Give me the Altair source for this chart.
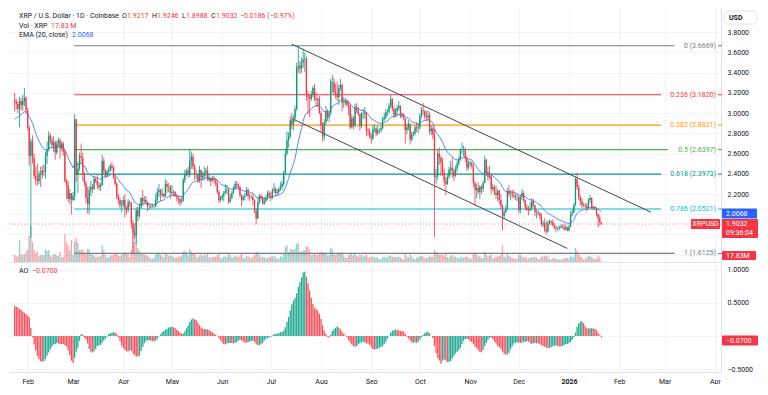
import altair as alt
import pandas as pd
import numpy as np

# ---------------- data ----------------
START_DATE = "2025-01-24"
FIRST_OPEN = 3.13
EMA_SEED = 2.92
EMA_LEN = 20

c_2501 = [3.11, 3.09, 3.04, 3.12, 3.08, 3.12, 3.15, 3.03]
h_2501 = [3.20, 3.14, 3.12, 3.16, 3.15, 3.18, 3.25, 3.17]
l_2501 = [3.02, 3.04, 3.00, 2.86, 3.03, 3.02, 3.07, 2.99]
v_2501 = [180, 130, 150, 550, 200, 180, 190, 260]

c_2502 = [2.85, 2.58, 2.72, 2.56, 2.38, 2.35, 2.33, 2.40, 2.39, 2.43, 2.42, 2.58, 2.64, 2.78, 2.73, 2.68, 2.71, 2.61, 2.70, 2.73, 2.65, 2.70, 2.62, 2.33, 2.29, 2.15, 2.21, 2.14]
h_2502 = [3.05, 2.88, 2.75, 2.78, 2.60, 2.47, 2.50, 2.43, 2.47, 2.48, 2.49, 2.62, 2.72, 2.82, 2.80, 2.77, 2.77, 2.73, 2.73, 2.76, 2.75, 2.72, 2.72, 2.64, 2.35, 2.33, 2.25, 2.20]
l_2502 = [2.83, 2.48, 1.77, 2.50, 2.35, 2.29, 2.28, 2.30, 2.27, 2.35, 2.38, 2.35, 2.50, 2.62, 2.70, 2.65, 2.62, 2.54, 2.59, 2.66, 2.55, 2.62, 2.58, 2.31, 2.15, 2.12, 2.10, 2.00]
v_2502 = [300, 650, 900, 500, 300, 220, 260, 150, 170, 180, 170, 320, 280, 300, 160, 140, 200, 200, 160, 150, 250, 120, 130, 700, 500, 420, 300, 550]

c_2503 = [2.18, 2.94, 2.39, 2.45, 2.58, 2.56, 2.40, 2.31, 2.16, 2.10, 2.24, 2.27, 2.25, 2.35, 2.33, 2.29, 2.27, 2.29, 2.53, 2.43, 2.38, 2.42, 2.44, 2.48, 2.46, 2.36, 2.30, 2.17, 2.14, 2.09, 2.09]
h_2503 = [2.22, 2.99, 2.94, 2.52, 2.61, 2.70, 2.61, 2.42, 2.33, 2.27, 2.28, 2.33, 2.30, 2.38, 2.37, 2.39, 2.32, 2.31, 2.59, 2.56, 2.45, 2.44, 2.47, 2.50, 2.52, 2.48, 2.40, 2.32, 2.20, 2.17, 2.14]
l_2503 = [2.13, 2.14, 2.32, 2.21, 2.43, 2.50, 2.33, 2.28, 2.11, 2.01, 2.00, 2.18, 2.21, 2.24, 2.31, 2.25, 2.24, 2.23, 2.28, 2.39, 2.36, 2.37, 2.39, 2.42, 2.43, 2.35, 2.28, 2.15, 2.10, 2.06, 2.02]
v_2503 = [180, 520, 600, 480, 300, 300, 320, 200, 220, 330, 320, 220, 180, 170, 110, 130, 140, 150, 420, 300, 180, 120, 110, 160, 160, 180, 200, 230, 160, 140, 180]

c_2504 = [2.14, 2.05, 2.04, 2.12, 2.11, 1.91, 1.82, 1.79, 2.04, 1.98, 2.07, 2.16, 2.13, 2.14, 2.12, 2.08, 2.08, 2.07, 2.08, 2.08, 2.14, 2.22, 2.24, 2.19, 2.20, 2.18, 2.30, 2.27, 2.27, 2.21]
h_2504 = [2.18, 2.20, 2.08, 2.15, 2.14, 2.12, 1.94, 1.91, 2.07, 2.08, 2.10, 2.17, 2.24, 2.18, 2.18, 2.13, 2.11, 2.10, 2.10, 2.10, 2.20, 2.26, 2.30, 2.25, 2.26, 2.21, 2.35, 2.33, 2.31, 2.29]
l_2504 = [2.07, 1.97, 2.00, 2.02, 2.07, 1.86, 1.6125, 1.76, 1.71, 1.93, 1.96, 2.05, 2.08, 2.11, 2.09, 2.03, 2.05, 2.06, 2.07, 2.06, 2.07, 2.11, 2.17, 2.13, 2.17, 2.16, 2.17, 2.21, 2.22, 2.15]
v_2504 = [200, 250, 210, 190, 110, 300, 850, 500, 650, 350, 280, 200, 220, 180, 170, 150, 120, 90, 80, 100, 180, 220, 240, 170, 160, 110, 220, 190, 150, 170]

c_2505 = [2.22, 2.22, 2.18, 2.17, 2.15, 2.12, 2.13, 2.34, 2.40, 2.43, 2.39, 2.53, 2.57, 2.47, 2.39, 2.39, 2.33, 2.44, 2.36, 2.38, 2.41, 2.43, 2.34, 2.36, 2.33, 2.35, 2.34, 2.31, 2.22, 2.14, 2.16]
h_2505 = [2.29, 2.24, 2.23, 2.20, 2.18, 2.16, 2.18, 2.36, 2.44, 2.45, 2.47, 2.65, 2.62, 2.60, 2.50, 2.44, 2.40, 2.48, 2.44, 2.42, 2.47, 2.46, 2.48, 2.39, 2.36, 2.38, 2.38, 2.36, 2.34, 2.24, 2.18]
l_2505 = [2.19, 2.18, 2.17, 2.13, 2.10, 2.08, 2.10, 2.13, 2.31, 2.38, 2.36, 2.37, 2.45, 2.44, 2.34, 2.35, 2.31, 2.31, 2.26, 2.33, 2.34, 2.37, 2.33, 2.32, 2.28, 2.32, 2.30, 2.28, 2.20, 2.11, 2.12]
v_2505 = [150, 130, 100, 110, 140, 140, 150, 260, 280, 200, 160, 330, 260, 220, 200, 140, 120, 160, 190, 150, 180, 160, 200, 110, 110, 120, 140, 130, 170, 200, 110]

c_2506 = [2.18, 2.21, 2.23, 2.24, 2.12, 2.16, 2.21, 2.26, 2.30, 2.29, 2.27, 2.19, 2.14, 2.17, 2.18, 2.24, 2.18, 2.17, 2.17, 2.14, 2.03, 1.96, 2.12, 2.18, 2.16, 2.11, 2.13, 2.16, 2.21, 2.18]
h_2506 = [2.20, 2.23, 2.30, 2.29, 2.26, 2.20, 2.23, 2.28, 2.33, 2.33, 2.31, 2.28, 2.20, 2.19, 2.21, 2.27, 2.26, 2.21, 2.19, 2.21, 2.15, 2.06, 2.16, 2.20, 2.20, 2.18, 2.17, 2.19, 2.23, 2.24]
l_2506 = [2.14, 2.13, 2.20, 2.20, 2.10, 2.12, 2.15, 2.20, 2.24, 2.26, 2.24, 2.17, 2.08, 2.13, 2.14, 2.18, 2.15, 2.13, 2.15, 2.09, 2.01, 1.90, 1.95, 2.10, 2.13, 2.09, 2.09, 2.12, 2.14, 2.16]
v_2506 = [90, 130, 140, 130, 200, 170, 110, 110, 150, 140, 120, 170, 210, 110, 90, 150, 140, 120, 90, 140, 170, 250, 260, 170, 130, 130, 120, 90, 110, 120]

c_2507 = [2.17, 2.23, 2.25, 2.21, 2.22, 2.25, 2.27, 2.30, 2.41, 2.60, 2.73, 2.77, 2.93, 2.89, 2.95, 3.04, 3.46, 3.47, 3.44, 3.50, 3.53, 3.54, 3.18, 3.16, 3.14, 3.18, 3.25, 3.14, 3.13, 3.14, 3.00]
h_2507 = [2.22, 2.26, 2.31, 2.27, 2.25, 2.27, 2.32, 2.33, 2.43, 2.65, 2.82, 2.81, 2.97, 3.00, 2.98, 3.07, 3.50, 3.6669, 3.52, 3.55, 3.64, 3.60, 3.56, 3.22, 3.18, 3.22, 3.27, 3.29, 3.21, 3.16, 3.17]
l_2507 = [2.13, 2.15, 2.21, 2.18, 2.19, 2.20, 2.23, 2.24, 2.28, 2.40, 2.58, 2.66, 2.75, 2.84, 2.83, 2.91, 3.02, 3.40, 3.39, 3.40, 3.45, 3.41, 3.12, 2.99, 2.96, 3.12, 3.16, 3.12, 3.06, 3.06, 2.99]
v_2507 = [130, 140, 150, 130, 80, 90, 140, 130, 220, 380, 420, 250, 320, 330, 300, 340, 450, 480, 260, 250, 300, 300, 400, 380, 300, 170, 180, 200, 190, 170, 240]

c_2508 = [2.88, 2.77, 2.91, 3.02, 2.96, 3.00, 3.31, 3.31, 3.21, 3.19, 3.16, 3.25, 3.28, 3.10, 3.10, 3.12, 3.08, 3.07, 2.86, 2.95, 2.88, 3.05, 3.03, 2.99, 2.87, 3.00, 3.00, 3.01, 2.83, 2.82, 2.77]
h_2508 = [3.02, 2.91, 2.94, 3.07, 3.04, 3.02, 3.34, 3.38, 3.35, 3.29, 3.31, 3.28, 3.34, 3.29, 3.16, 3.15, 3.14, 3.12, 3.09, 2.99, 2.97, 3.09, 3.10, 3.06, 3.00, 3.01, 3.04, 3.06, 3.01, 2.85, 2.85]
l_2508 = [2.82, 2.72, 2.73, 2.88, 2.92, 2.91, 2.98, 3.20, 3.18, 3.14, 3.12, 3.08, 3.22, 3.02, 3.05, 3.08, 3.06, 2.98, 2.84, 2.85, 2.84, 2.86, 3.00, 2.97, 2.83, 2.85, 2.94, 2.95, 2.77, 2.78, 2.75]
v_2508 = [260, 240, 200, 200, 160, 170, 350, 300, 200, 170, 220, 230, 220, 250, 160, 110, 100, 170, 220, 190, 160, 240, 150, 130, 180, 170, 140, 150, 190, 120, 110]

c_2509 = [2.75, 2.84, 2.85, 2.80, 2.83, 2.83, 2.85, 2.94, 2.96, 3.01, 3.01, 3.07, 3.14, 3.04, 2.98, 3.02, 3.05, 3.07, 2.97, 2.98, 2.95, 2.83, 2.86, 2.89, 2.74, 2.79, 2.80, 2.86, 2.85, 2.86]
h_2509 = [2.80, 2.88, 2.89, 2.86, 2.88, 2.85, 2.88, 2.96, 3.00, 3.04, 3.04, 3.10, 3.18, 3.15, 3.07, 3.05, 3.08, 3.12, 3.08, 3.01, 3.00, 2.95, 2.90, 2.93, 2.90, 2.82, 2.82, 2.88, 2.91, 2.90]
l_2509 = [2.70, 2.73, 2.81, 2.77, 2.78, 2.80, 2.81, 2.84, 2.92, 2.94, 2.97, 3.00, 3.05, 3.02, 2.95, 2.96, 2.97, 3.03, 2.95, 2.95, 2.93, 2.70, 2.79, 2.83, 2.69, 2.72, 2.77, 2.78, 2.81, 2.80]
v_2509 = [130, 140, 110, 110, 110, 70, 70, 130, 120, 130, 110, 150, 160, 130, 130, 120, 130, 140, 120, 70, 70, 200, 140, 120, 190, 140, 80, 80, 110, 110]

c_2510 = [2.97, 3.03, 3.02, 2.97, 2.96, 2.98, 2.82, 2.85, 2.79, 2.37, 2.38, 2.60, 2.56, 2.51, 2.41, 2.33, 2.30, 2.37, 2.44, 2.46, 2.43, 2.38, 2.45, 2.50, 2.55, 2.63, 2.63, 2.63, 2.56, 2.46, 2.50]
h_2510 = [3.00, 3.06, 3.10, 3.03, 3.02, 3.03, 3.01, 2.88, 2.87, 2.84, 2.45, 2.64, 2.66, 2.58, 2.56, 2.45, 2.37, 2.39, 2.47, 2.53, 2.57, 2.45, 2.48, 2.53, 2.57, 2.65, 2.71, 2.68, 2.66, 2.58, 2.53]
l_2510 = [2.84, 2.95, 2.98, 2.94, 2.92, 2.93, 2.79, 2.78, 2.74, 1.77, 2.30, 2.34, 2.49, 2.38, 2.38, 2.28, 2.19, 2.29, 2.35, 2.40, 2.36, 2.33, 2.37, 2.42, 2.48, 2.53, 2.60, 2.57, 2.52, 2.43, 2.44]
v_2510 = [150, 140, 140, 90, 100, 110, 160, 130, 130, 300, 250, 200, 180, 190, 170, 160, 200, 120, 110, 150, 170, 140, 130, 110, 90, 110, 140, 110, 130, 140, 110]

c_2511 = [2.51, 2.48, 2.31, 2.24, 2.26, 2.22, 2.27, 2.25, 2.31, 2.54, 2.41, 2.37, 2.38, 2.25, 2.27, 2.21, 2.19, 2.23, 2.14, 2.08, 1.98, 2.02, 2.06, 2.23, 2.20, 2.20, 2.19, 2.18, 2.17, 2.17]
h_2511 = [2.53, 2.52, 2.50, 2.33, 2.30, 2.32, 2.29, 2.29, 2.33, 2.58, 2.55, 2.47, 2.48, 2.40, 2.30, 2.29, 2.28, 2.25, 2.24, 2.20, 2.10, 2.04, 2.09, 2.26, 2.29, 2.24, 2.24, 2.24, 2.20, 2.20]
l_2511 = [2.47, 2.45, 2.27, 2.08, 2.16, 2.20, 2.15, 2.20, 2.22, 2.31, 2.38, 2.33, 2.35, 2.20, 2.23, 2.19, 2.15, 2.13, 2.10, 2.05, 1.84, 1.96, 2.01, 2.04, 2.17, 2.14, 2.16, 2.16, 2.14, 2.13]
v_2511 = [90, 90, 200, 240, 180, 140, 150, 100, 100, 260, 190, 140, 160, 180, 90, 100, 140, 140, 150, 180, 420, 140, 110, 200, 150, 120, 100, 90, 80, 80]

c_2512 = [2.04, 2.17, 2.21, 2.14, 2.07, 2.05, 2.04, 2.06, 2.13, 2.09, 2.02, 2.02, 2.01, 1.98, 1.90, 1.91, 1.85, 1.83, 1.91, 1.93, 1.92, 1.89, 1.87, 1.86, 1.86, 1.87, 1.88, 1.87, 1.85, 1.87, 1.84]
h_2512 = [2.18, 2.19, 2.25, 2.23, 2.15, 2.10, 2.08, 2.12, 2.16, 2.15, 2.09, 2.05, 2.04, 2.02, 2.01, 1.94, 1.96, 1.93, 1.94, 1.95, 1.94, 1.95, 1.91, 1.89, 1.88, 1.89, 1.90, 1.90, 1.91, 1.90, 1.88]
l_2512 = [2.01, 2.01, 2.14, 2.12, 2.04, 2.03, 1.99, 2.03, 2.04, 2.07, 1.98, 1.96, 1.99, 1.95, 1.88, 1.87, 1.82, 1.80, 1.82, 1.90, 1.89, 1.88, 1.85, 1.82, 1.84, 1.84, 1.86, 1.86, 1.84, 1.84, 1.83]
v_2512 = [180, 170, 140, 120, 130, 80, 90, 110, 120, 110, 130, 110, 70, 80, 140, 130, 150, 160, 140, 80, 70, 90, 100, 90, 60, 70, 60, 70, 100, 90, 100]

c_2601 = [1.88, 2.00, 2.02, 2.09, 2.35, 2.27, 2.17, 2.13, 2.09, 2.09, 2.08, 2.06, 2.14, 2.16, 2.07, 2.06, 2.06, 2.00, 1.96, 1.9217, 1.9032]
h_2601 = [1.90, 2.03, 2.05, 2.11, 2.37, 2.41, 2.29, 2.19, 2.16, 2.11, 2.11, 2.11, 2.16, 2.19, 2.17, 2.09, 2.08, 2.07, 2.01, 1.99, 1.9246]
l_2601 = [1.83, 1.87, 1.98, 2.01, 2.08, 2.24, 2.14, 2.09, 2.06, 2.07, 2.06, 2.03, 2.05, 2.11, 2.05, 2.04, 2.04, 1.98, 1.87, 1.89, 1.8988]
v_2601 = [90, 150, 120, 140, 350, 280, 180, 140, 120, 70, 70, 110, 150, 140, 120, 90, 70, 90, 160, 120, 17.83]

# AO values read directly for the first 33 days (before a 34-day window exists)
ao_head = [0.45, 0.44, 0.43, 0.41, 0.39, 0.37, 0.35, 0.33, 0.31, 0.28,
           0.12, -0.02, -0.13, -0.22, -0.30, -0.35, -0.38, -0.39, -0.38, -0.35,
           -0.30, -0.25, -0.20, -0.16, -0.13, -0.12, -0.11, -0.11, -0.12, -0.12,
           -0.12, -0.14, -0.16]

fib_levels = ["0", "0.236", "0.382", "0.5", "0.618", "0.786", "1"]
fib_prices = [3.6669, 3.1820, 2.8821, 2.6397, 2.3973, 2.0521, 1.6125]
fib_colors = ["#787b86", "#f23645", "#ff9800", "#4caf50", "#089981", "#00bcd4", "#787b86"]
fib_start = "2025-03-01T18:00:00"

chan_ids = ["upper", "upper", "lower", "lower"]
chan_dates = ["2025-07-14T00:00:00", "2026-02-20T12:00:00", "2025-07-14T00:00:00", "2025-12-31T00:00:00"]
chan_prices = [3.682, 2.021, 2.947, 1.662]

price_ticks = [1.6, 1.8, 2.0, 2.2, 2.4, 2.6, 2.8, 3.0, 3.2, 3.4, 3.6, 3.8]
ao_ticks = [-0.5, 0.0, 0.5, 1.0]

last_price = 1.9032
ema_last_label = "2.0068"
ao_last = -0.0700
vol_last_label = "17.83M"
countdown = "09:36:04"

# ---------------- build frames ----------------
closes = c_2501 + c_2502 + c_2503 + c_2504 + c_2505 + c_2506 + c_2507 + c_2508 + c_2509 + c_2510 + c_2511 + c_2512 + c_2601
highs = h_2501 + h_2502 + h_2503 + h_2504 + h_2505 + h_2506 + h_2507 + h_2508 + h_2509 + h_2510 + h_2511 + h_2512 + h_2601
lows = l_2501 + l_2502 + l_2503 + l_2504 + l_2505 + l_2506 + l_2507 + l_2508 + l_2509 + l_2510 + l_2511 + l_2512 + l_2601
vols = v_2501 + v_2502 + v_2503 + v_2504 + v_2505 + v_2506 + v_2507 + v_2508 + v_2509 + v_2510 + v_2511 + v_2512 + v_2601
n = min(len(closes), len(highs), len(lows), len(vols))
closes, highs, lows, vols = closes[:n], highs[:n], lows[:n], vols[:n]
dates = pd.date_range(START_DATE, periods=n, freq="D")
opens = [FIRST_OPEN] + closes[:-1]

UP, DN = "#089981", "#f23645"
DARK, RED, BLUE = "#131722", "#f23645", "#2962ff"

df = pd.DataFrame({"date": dates.strftime("%Y-%m-%dT%H:%M:%S"), "open": opens, "high": highs,
                   "low": lows, "close": closes, "vol": vols})
df["col"] = np.where(df["close"] >= df["open"], UP, DN)

alpha = 2.0 / (EMA_LEN + 1)
e = EMA_SEED
ema = []
for c in closes:
    e = alpha * c + (1 - alpha) * e
    ema.append(e)
df["ema"] = ema

med = (df["high"] + df["low"]) / 2
ao = (med.rolling(5).mean() - med.rolling(34).mean()).to_numpy()
ao[:len(ao_head)] = ao_head
df["ao"] = ao
diff = np.diff(ao, prepend=np.nan)
df["aocol"] = np.where(diff > 0, "#22ab94", "#f7525f")

# ---------------- layout ----------------
W, H1, H2 = 712, 254, 110
PMIN, PMAX = 1.528, 4.04
AMIN, AMAX = -0.544, 1.116
ppu = H1 / (PMAX - PMIN)
appu = H2 / (AMAX - AMIN)
FONT = "Roboto"
FS = 7

t0 = pd.Timestamp("2025-01-23 14:00")
t1 = pd.Timestamp("2026-04-01 17:00")
xs = alt.Scale(domain=[alt.DateTime(year=2025, month=1, date=23, hours=14),
                       alt.DateTime(year=2026, month=4, date=1, hours=17)])
month_ticks = [alt.DateTime(year=y, month=m, date=1) for (y, m) in
               [(2025, 2), (2025, 3), (2025, 4), (2025, 5), (2025, 6), (2025, 7), (2025, 8), (2025, 9),
                (2025, 10), (2025, 11), (2025, 12), (2026, 1), (2026, 2), (2026, 3), (2026, 4)]]

xaxis_top = alt.Axis(values=month_ticks, labels=False, ticks=False, domain=True, domainColor="#e0e3eb",
                     grid=True, gridColor="#f0f3fa", title=None)
xaxis_bot = alt.Axis(values=month_ticks, labelFontSize=FS, labelFont=FONT, labelColor=DARK,
                     labelExpr="month(datum.value) == 0 ? timeFormat(datum.value, '%Y') : timeFormat(datum.value, '%b')",
                     labelFontWeight={"condition": {"test": "month(datum.value) == 0", "value": "bold"}, "value": "normal"},
                     labelFlush=False, labelPadding=5, ticks=False, domain=True, domainColor="#e0e3eb",
                     grid=True, gridColor="#f0f3fa", title=None, labelOverlap=False)

# labels hidden behind the price / volume boxes on the right axis (as in the reference)
ps = alt.Scale(domain=[PMIN, PMAX], nice=False, zero=False)
paxis = alt.Axis(orient="right", values=price_ticks,
                 labelExpr="(abs(datum.value - 2.0) < 0.001 || abs(datum.value - 1.8) < 0.001 || abs(datum.value - 1.6) < 0.001) ? '' : format(datum.value, '.4f')",
                 labelFontSize=FS, labelFont=FONT, labelColor=DARK, labelPadding=6,
                 ticks=False, tickSize=0, domain=True, domainColor="#e0e3eb", grid=True,
                 gridColor="#f0f3fa", title=None)
as_ = alt.Scale(domain=[AMIN, AMAX], nice=False, zero=False)
aaxis = alt.Axis(orient="right", values=ao_ticks,
                 labelExpr="abs(datum.value) < 0.001 ? '' : format(datum.value, '.4f')",
                 labelFontSize=FS, labelFont=FONT, labelColor=DARK, labelPadding=6, ticks=False,
                 tickSize=0, domain=True, domainColor="#e0e3eb", grid=True, gridColor="#f0f3fa",
                 title=None)


def XT(f):
    return alt.X(f"{f}:T", scale=xs, axis=xaxis_top)


def XB(f):
    return alt.X(f"{f}:T", scale=xs, axis=xaxis_bot)


def PY(f):
    return alt.Y(f"{f}:Q", scale=ps, axis=paxis)


def AY(f):
    return alt.Y(f"{f}:Q", scale=as_, axis=aaxis)


def px_to_date(px):
    return (t0 + (t1 - t0) * (px / W)).strftime("%Y-%m-%dT%H:%M:%S")


one = pd.DataFrame({"k": [0]})


def ptext(txt, x, y, color, align="left", weight="normal", size=FS):
    return alt.Chart(one).mark_text(text=txt, align=align, baseline="middle", font=FONT, fontSize=size,
                                    color=color, fontWeight=weight).encode(x=alt.value(x), y=alt.value(y))


# ---------------- price pane ----------------
fib_labels = [f"{lv} ({p:.4f})" for lv, p in zip(fib_levels, fib_prices)]
fib = pd.DataFrame({"price": fib_prices, "color": fib_colors, "label": fib_labels,
                    "start": fib_start,
                    "end": [px_to_date(W - 5 - len(t) * 3.4 - 3) for t in fib_labels]})

fib_lines = alt.Chart(fib).mark_rule(strokeWidth=1.2).encode(
    x=XT("start"), x2=alt.X2("end"), y=PY("price"), color=alt.Color("color:N", scale=None))
fib_text = alt.Chart(fib).mark_text(align="right", baseline="middle", font=FONT, fontSize=FS).encode(
    x=alt.value(W - 5), y=PY("price"), text="label:N", color=alt.Color("color:N", scale=None))
fib_dash = alt.Chart(fib).mark_rule(strokeWidth=1).encode(
    x=alt.value(W - 3), x2=alt.value(W + 1), y=PY("price"), color=alt.Color("color:N", scale=None))

chan = pd.DataFrame({"id": chan_ids, "d": chan_dates, "p": chan_prices})
chan_lines = alt.Chart(chan).mark_line(color="#434651", strokeWidth=1).encode(
    x=XT("d"), y=PY("p"), detail="id:N")

ema_line = alt.Chart(df).mark_line(color="#5b86f7", strokeWidth=1).encode(x=XT("date"), y=PY("ema"))
wicks = alt.Chart(df).mark_rule(strokeWidth=0.8).encode(
    x=XT("date"), y=PY("low"), y2=alt.Y2("high"), color=alt.Color("col:N", scale=None))
bodies = alt.Chart(df).mark_bar(size=1.3).encode(
    x=XT("date"), y=PY("open"), y2=alt.Y2("close"), color=alt.Color("col:N", scale=None))

lp = pd.DataFrame({"p": [last_price], "t": [last_price + 5 / ppu], "b": [last_price - 14 / ppu],
                   "t2": [last_price + 5 / ppu], "b2": [last_price - 5 / ppu]})
last_line = alt.Chart(lp).mark_rule(color=RED, strokeDash=[1, 2], opacity=0.6, strokeWidth=1).encode(y=PY("p"))

ema_val = float(ema_last_label)
eb = pd.DataFrame({"p": [ema_val], "t": [ema_val + 5 / ppu], "b": [ema_val - 5 / ppu]})
ema_box = alt.Chart(eb).mark_rect(color=BLUE, cornerRadius=1).encode(
    x=alt.value(W + 1), x2=alt.value(W + 36), y=PY("t"), y2=alt.Y2("b"))
ema_box_t = alt.Chart(eb).mark_text(text=ema_last_label, align="left", baseline="middle", font=FONT,
                                    fontSize=FS, color="white").encode(x=alt.value(W + 5), y=PY("p"))

lp_box = alt.Chart(lp).mark_rect(color=RED, cornerRadius=1).encode(
    x=alt.value(W + 1), x2=alt.value(W + 37), y=PY("t"), y2=alt.Y2("b"))
lp_box_t1 = alt.Chart(lp).mark_text(text=f"{last_price:.4f}", align="left", baseline="middle", font=FONT,
                                    fontSize=FS, color="white").encode(x=alt.value(W + 5), y=PY("p"))
lp_box_t2 = alt.Chart(lp).mark_text(text=countdown, align="left", baseline="middle", font=FONT,
                                    fontSize=FS, color="white", dy=9).encode(x=alt.value(W + 5), y=PY("p"))
sym_box = alt.Chart(lp).mark_rect(color=RED, cornerRadius=1).encode(
    x=alt.value(W - 30), x2=alt.value(W - 1), y=PY("t2"), y2=alt.Y2("b2"))
sym_box_t = alt.Chart(lp).mark_text(text="XRPUSD", align="center", baseline="middle", font=FONT,
                                    fontSize=FS, color="white").encode(x=alt.value(W - 15.5), y=PY("p"))

vol_box = alt.Chart(one).mark_rect(color=RED, cornerRadius=1).encode(
    x=alt.value(W + 1), x2=alt.value(W + 35), y=alt.value(H1 - 11), y2=alt.value(H1 - 2))
vol_box_t = ptext(vol_last_label, W + 5, H1 - 6.5, "white")

usd_box = alt.Chart(one).mark_rect(fill="white", stroke="#e0e3eb", strokeWidth=1, cornerRadius=4).encode(
    x=alt.value(W + 3), x2=alt.value(W + 36), y=alt.value(3), y2=alt.value(16))
usd_t = ptext("USD", W + 8, 9.5, DARK, weight="bold")

hdr = [("XRP / U.S. Dollar · 1D · Coinbase", 10, 8, DARK),
       ("O", 113, 8, DARK), ("1.9217", 118, 8, RED),
       ("H", 143, 8, DARK), ("1.9246", 148, 8, RED),
       ("L", 173, 8, DARK), ("1.8988", 177, 8, RED),
       ("C", 202, 8, DARK), ("1.9032", 207, 8, RED),
       ("−0.0186 (−0.97%)", 231, 8, RED),
       ("Vol · XRP", 10, 17.5, DARK), ("17.83 M", 42, 17.5, RED),
       ("EMA (20, close)", 10, 27, DARK), ("2.0068", 63, 27, BLUE)]
hdr_layers = [ptext(t, x, y, c) for (t, x, y, c) in hdr]

price_group = alt.layer(fib_lines, fib_dash, fib_text, chan_lines, ema_line, wicks, bodies, last_line,
                        ema_box, ema_box_t, lp_box, lp_box_t1, lp_box_t2, sym_box, sym_box_t,
                        vol_box, vol_box_t, usd_box, usd_t, *hdr_layers)

volume = alt.Chart(df).mark_bar(size=1.3, opacity=0.45).encode(
    x=XT("date"), y=alt.Y("vol:Q", scale=alt.Scale(domain=[0, 6350]), axis=None),
    color=alt.Color("col:N", scale=None))

top = alt.layer(volume, price_group).resolve_scale(y="independent").properties(width=W, height=H1)

# ---------------- AO pane ----------------
ao_bars = alt.Chart(df).mark_bar(size=1.3).encode(
    x=XB("date"), y=AY("ao"), color=alt.Color("aocol:N", scale=None))
ab = pd.DataFrame({"p": [ao_last], "t": [ao_last + 5 / appu], "b": [ao_last - 5 / appu]})
ao_box = alt.Chart(ab).mark_rect(color=RED, cornerRadius=1).encode(
    x=alt.value(W + 1), x2=alt.value(W + 37), y=AY("t"), y2=alt.Y2("b"))
ao_box_t = alt.Chart(ab).mark_text(text="−0.0700", align="left", baseline="middle", font=FONT,
                                   fontSize=FS, color="white").encode(x=alt.value(W + 5), y=AY("p"))
ao_lab1 = ptext("AO", 10, 9, DARK)
ao_lab2 = ptext("−0.0700", 23, 9, RED)

bottom = alt.layer(ao_bars, ao_box, ao_box_t, ao_lab1, ao_lab2).properties(width=W, height=H2)

chart = alt.vconcat(top, bottom, spacing=0).properties(padding=0).configure_view(stroke=None)

chart.save("out.html", embed_options={"renderer": "svg", "actions": False})
